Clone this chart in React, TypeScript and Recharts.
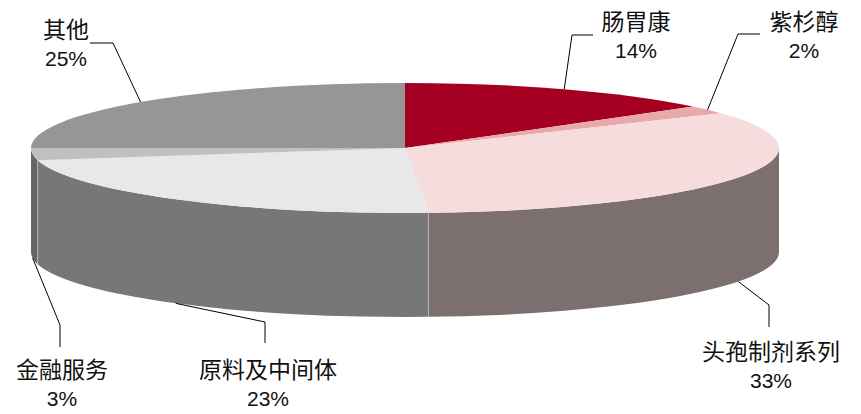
import { Pie, PieChart } from 'recharts';

// slice data, clockwise from 12 o'clock
const names = ['肠胃康', '紫杉醇', '头孢制剂系列', '原料及中间体', '金融服务', '其他'];
const shares = [14, 2, 33, 23, 3, 25];

const topColors = ['#A50021', '#E8A9AA', '#F6DCDC', '#E8E8E8', '#C0C0C0', '#969696'];
const sideColors = ['#7A0018', '#B08080', '#7B6F6F', '#777777', '#666666', '#6E6E6E'];

const data = names.map((name, i) => ({ name, value: shares[i] }));

// flattening of the pie and thickness of its wall
const TILT = 65 / 374;
const DEPTH = 104;

// where each label sits, and the bend of its leader line
const labelLayout = [
  { x: 636, y: 22, elbow: [572, 35], end: [593, 35] },
  { x: 804, y: 22, elbow: [738, 34], end: [760, 34] },
  { x: 771, y: 352, elbow: [769, 305], end: [769, 327] },
  { x: 268, y: 370, elbow: [265, 322], end: [265, 343] },
  { x: 62, y: 370, elbow: [60, 325], end: [60, 347] },
  { x: 66, y: 30, elbow: [113, 43], end: [90, 43] }
];

const rad = (a: number) => (a * Math.PI) / 180;

function renderSlice(props: any) {
  const { cx, cy, outerRadius, startAngle, endAngle, index, value, name } = props;
  const rx = outerRadius;
  const ry = outerRadius * TILT;
  const pt = (a: number, dy = 0) => [cx + rx * Math.cos(rad(a)), cy - ry * Math.sin(rad(a)) + dy];

  const [x1, y1] = pt(startAngle);
  const [x2, y2] = pt(endAngle);
  const large = Math.abs(startAngle - endAngle) > 180 ? 1 : 0;
  const top = `M${cx},${cy} L${x1},${y1} A${rx},${ry} 0 ${large} 1 ${x2},${y2} Z`;

  // front wall: part of the slice between -180 and 0 degrees
  const hi = Math.min(startAngle, 0);
  const lo = Math.max(endAngle, -180);
  let side = null;
  let edge = null;
  if (hi > lo) {
    const [hx, hy] = pt(hi);
    const [lx, ly] = pt(lo);
    side = (
      <path
        d={`M${hx},${hy} A${rx},${ry} 0 0 1 ${lx},${ly} L${lx},${ly + DEPTH} A${rx},${ry} 0 0 0 ${hx},${hy + DEPTH} Z`}
        fill={sideColors[index]}
      />
    );
    if (startAngle < 0 && startAngle > -180) {
      edge = <line x1={x1} y1={y1} x2={x1} y2={y1 + DEPTH} stroke="#B4B4B4" strokeWidth={1} />;
    }
  }

  const mid = (startAngle + endAngle) / 2;
  const front = Math.sin(rad(mid)) < 0;
  const [sx, sy] = pt(mid, front ? DEPTH : 0);
  const lay = labelLayout[index];

  return (
    <g key={`slice-${index}`}>
      {side}
      {edge}
      <path d={top} fill={topColors[index]} />
      <polyline
        points={`${sx},${sy} ${lay.elbow[0]},${lay.elbow[1]} ${lay.end[0]},${lay.end[1]}`}
        fill="none"
        stroke="#000"
        strokeWidth={1}
      />
      <text x={lay.x} y={lay.y} textAnchor="middle" dominantBaseline="central" fontSize={23} fill="#111">
        {name}
      </text>
      <text x={lay.x} y={lay.y + 28} textAnchor="middle" dominantBaseline="central" fontSize={21} fill="#111">
        {`${value}%`}
      </text>
    </g>
  );
}

export default function App() {
  return (
    <div
      style={{
        position: 'absolute',
        left: 0,
        top: 0,
        width: 861,
        height: 414,
        background: '#fff',
        fontFamily: '"Liberation Sans", "Noto Sans CJK SC", sans-serif'
      }}
    >
      <PieChart width={861} height={414} margin={{ top: 0, right: 0, bottom: 0, left: 0 }}>
        <Pie
          data={data}
          dataKey="value"
          nameKey="name"
          cx={405}
          cy={148}
          outerRadius={374}
          startAngle={90}
          endAngle={-270}
          fill="none"
          stroke="none"
          labelLine={false}
          label={renderSlice}
          isAnimationActive={false}
        />
      </PieChart>
    </div>
  );
}
